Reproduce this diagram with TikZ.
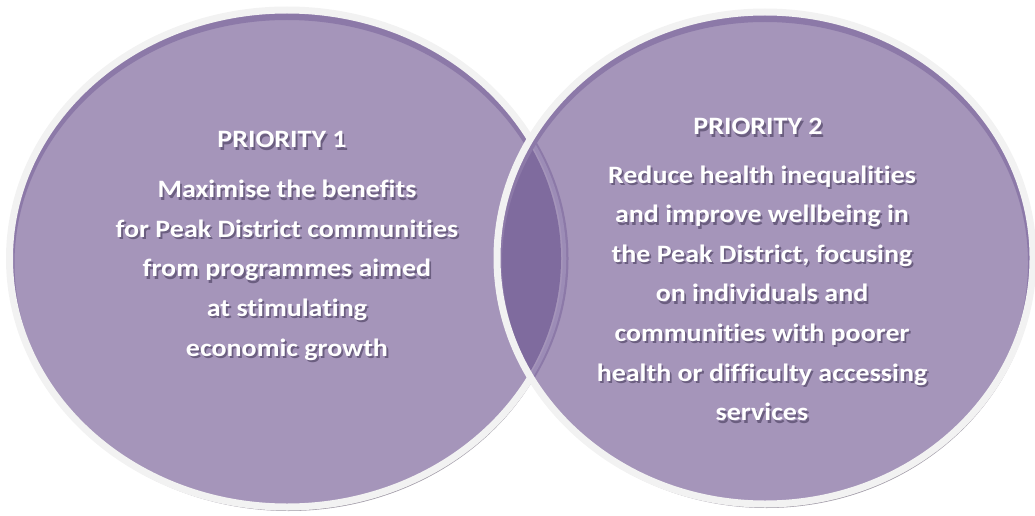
\documentclass[tikz,border=0pt]{standalone}
\usepackage{fontspec}
\setmainfont{Carlito}[Ligatures=NoCommon]
\usepackage{graphicx}
\usepackage{tikz}

\definecolor{ringfill}{HTML}{A595BA}
\definecolor{lensfill}{HTML}{7F6B9E}
\definecolor{ringedge}{HTML}{F2F2F2}
\definecolor{ringshadow}{HTML}{A39DA9}
\definecolor{ringrim}{HTML}{8C79A8}
\definecolor{lensline}{HTML}{9C8CB6}
\definecolor{txtshadow}{HTML}{6B5E80}

% white text with a soft offset shadow, a little wider than set
\newcommand{\shd}[1]{\scalebox{1.12}[1]{\leavevmode\rlap{\hspace{1.6pt}\raisebox{-2.4pt}{\textcolor{txtshadow}{#1}}}#1}}

\begin{document}
\begin{tikzpicture}[x=1pt,y=1pt,
	prio/.style={text=white, font=\bfseries\fontsize{25}{39.6}\selectfont, align=center, inner sep=0pt}]
	
	\useasboundingbox (0,0) rectangle (1035,515);
	
	\coordinate (c1) at (287, 256.5);
	\coordinate (c2) at (765, 257);
	
	% shadows
	\fill[ringshadow] ([shift={(1.5,-4)}]c1) ellipse [x radius=277.5, y radius=248.5];
	\fill[ringshadow] ([shift={(1.5,-4)}]c2) ellipse [x radius=268, y radius=246];
	
	% left circle
	\fill[ringfill] (c1) ellipse [x radius=277.5, y radius=248.5];
	\begin{scope}
		\clip (c1) ellipse [x radius=277.5, y radius=248.5];
		\draw[ringrim, line width=10pt] ([yshift=-5]c1) ellipse [x radius=277.5, y radius=248.5];
	\end{scope}
	\draw[ringedge, line width=7pt] (c1) ellipse [x radius=277.5, y radius=248.5];
	
	% right circle
	\fill[ringfill] (c2) ellipse [x radius=268, y radius=246];
	\begin{scope}
		\clip (c1) ellipse [x radius=274, y radius=245];
		\fill[lensfill] (c2) ellipse [x radius=268, y radius=246];
	\end{scope}
	\begin{scope}
		\clip (c2) ellipse [x radius=268, y radius=246];
		\draw[ringrim, line width=3pt] ([xshift=2.5]c1) ellipse [x radius=277.5, y radius=248.5];
		\draw[lensline, line width=3.5pt] (c1) ellipse [x radius=277.5, y radius=248.5];
		\draw[ringrim, line width=10pt] ([yshift=-5]c2) ellipse [x radius=268, y radius=246];
	\end{scope}
	\draw[ringedge, line width=7pt] (c2) ellipse [x radius=268, y radius=246];
	
	% texts
	\node[prio] (t1) at (282, 374) {\shd{PRIORITY 1}};
	\node[prio] (b1) at (287, 243.5) {\shd{Maximise the benefits}\\
		\shd{for Peak District communities}\\
		\shd{from programmes aimed}\\
		\shd{at stimulating}\\
		\shd{economic growth}};
	\node[prio] (t2) at (758, 387) {\shd{PRIORITY 2}};
	\node[prio] (b2) at (762, 220.5) {\shd{Reduce health inequalities}\\
		\shd{and improve wellbeing in}\\
		\shd{the Peak District, focusing}\\
		\shd{on individuals and}\\
		\shd{communities with poorer}\\
		\shd{health or difficulty accessing}\\
		\shd{services}};
	
\end{tikzpicture}
\end{document}
